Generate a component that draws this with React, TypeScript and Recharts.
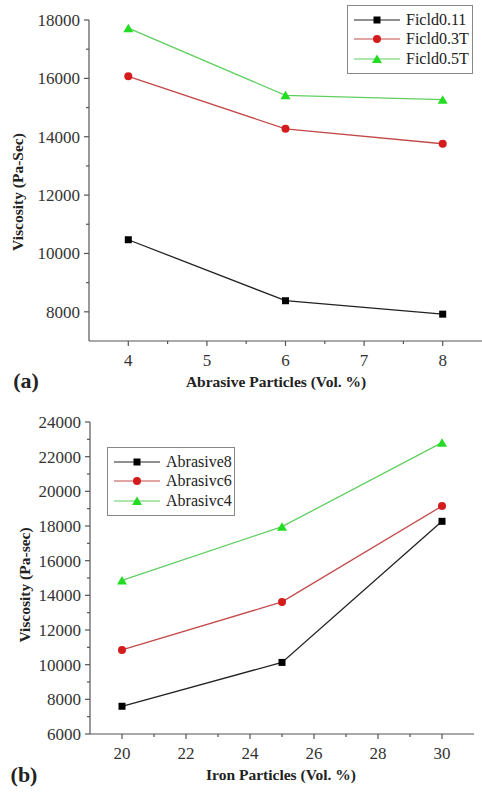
import { LineChart, Line, XAxis, YAxis, Legend } from "recharts";

// (a) viscosity vs abrasive content, one line per magnetic field
const abrasiveVol = [4, 6, 8];
const field01 = [10470, 8380, 7920];
const field03 = [16070, 14270, 13760];
const field05 = [17720, 15420, 15270];

// (b) viscosity vs iron content, one line per abrasive content
const ironVol = [20, 25, 30];
const abrasive8 = [7600, 10130, 18270];
const abrasive6 = [10850, 13620, 19150];
const abrasive4 = [14860, 17960, 22810];

const xTicksA = [4, 4.5, 5, 5.5, 6, 6.5, 7, 7.5, 8];
const yTicksA = [8000, 9000, 10000, 11000, 12000, 13000, 14000, 15000, 16000, 17000, 18000];
const xTicksB = [20, 21, 22, 23, 24, 25, 26, 27, 28, 29, 30];
const yTicksB = [6000, 7000, 8000, 9000, 10000, 11000, 12000, 13000, 14000, 15000, 16000, 17000, 18000, 19000, 20000, 21000, 22000, 23000, 24000];

const FONT = "Liberation Serif, Times New Roman, Times, DejaVu Serif, serif";
const AXIS = "#555";

type Shape = "square" | "circle" | "triangle";
type Series = { key: string; name: string; line: string; fill: string; shape: Shape };

const seriesA: Series[] = [
  { key: "f01", name: "Ficld0.11", line: "#222", fill: "#000", shape: "square" },
  { key: "f03", name: "Ficld0.3T", line: "#c24a4a", fill: "#d41c1c", shape: "circle" },
  { key: "f05", name: "Ficld0.5T", line: "#5fcf5f", fill: "#22dd22", shape: "triangle" },
];
const seriesB: Series[] = [
  { key: "a8", name: "Abrasive8", line: "#222", fill: "#000", shape: "square" },
  { key: "a6", name: "Abrasivc6", line: "#c24a4a", fill: "#d41c1c", shape: "circle" },
  { key: "a4", name: "Abrasivc4", line: "#5fcf5f", fill: "#22dd22", shape: "triangle" },
];

const dataA = abrasiveVol.map((x, i) => ({ x, f01: field01[i], f03: field03[i], f05: field05[i] }));
const dataB = ironVol.map((x, i) => ({ x, a8: abrasive8[i], a6: abrasive6[i], a4: abrasive4[i] }));

function Marker({ cx, cy, shape, fill }: { cx: number; cy: number; shape: Shape; fill: string }) {
  if (shape === "square") return <rect x={cx - 3.5} y={cy - 3.5} width={7} height={7} fill={fill} />;
  if (shape === "circle") return <circle cx={cx} cy={cy} r={4} fill={fill} />;
  return <path d={`M${cx},${cy - 4.5} L${cx + 5},${cy + 4} L${cx - 5},${cy + 4} Z`} fill={fill} />;
}

const XTick = (major: (v: number) => boolean) => (p: any) => {
  const v = p.payload.value;
  const m = major(v);
  return (
    <g>
      <line x1={p.x} x2={p.x} y1={p.y} y2={p.y + (m ? 5 : 3)} stroke={AXIS} strokeWidth={1.2} />
      {m && (
        <text x={p.x} y={p.y + 19} dy="0.35em" textAnchor="middle" fontSize={17} style={{ fontFamily: FONT }} fill="#333">
          {v}
        </text>
      )}
    </g>
  );
};

const YTick = (major: (v: number) => boolean) => (p: any) => {
  const v = p.payload.value;
  const m = major(v);
  return (
    <g>
      <line x1={p.x} x2={p.x - (m ? 5 : 3)} y1={p.y} y2={p.y} stroke={AXIS} strokeWidth={1.2} />
      {m && (
        <text x={p.x - 9} y={p.y} dy="0.35em" textAnchor="end" fontSize={17} style={{ fontFamily: FONT }} fill="#333">
          {v}
        </text>
      )}
    </g>
  );
};

function LegendBox({ series, w, rowH }: { series: Series[]; w: number; rowH: number }) {
  return (
    <div
      style={{
        border: "1.5px solid #888",
        width: w,
        padding: "4px 0",
        background: "#fff",
        fontFamily: FONT,
        fontSize: 16,
        color: "#222",
      }}
    >
      {series.map((s) => (
        <div key={s.key} style={{ display: "flex", alignItems: "center", height: rowH }}>
          <svg width={52} height={12} style={{ marginLeft: 6 }}>
            <line x1={0} x2={46} y1={6} y2={6} stroke={s.line} strokeWidth={1.2} />
            <Marker cx={23} cy={6} shape={s.shape} fill={s.fill} />
          </svg>
          <span>{s.name}</span>
        </div>
      ))}
    </div>
  );
}

function Title({ x, y, size, rotate, children }: any) {
  return (
    <div
      style={{
        position: "absolute",
        left: x,
        top: y,
        transform: `translate(-50%, -50%)${rotate ? " rotate(-90deg)" : ""}`,
        fontFamily: FONT,
        fontWeight: "bold",
        fontSize: size,
        whiteSpace: "nowrap",
        color: "#222",
      }}
    >
      {children}
    </div>
  );
}

export default function App() {
  return (
    <div style={{ position: "absolute", left: 0, top: 0, width: 482, height: 792, background: "#fff", fontFamily: FONT }}>
      <div style={{ position: "absolute", left: 0, top: 0 }}>
        <LineChart width={482} height={400} data={dataA} margin={{ top: 20, right: 0, bottom: 29, left: 0 }}>
          <XAxis
            dataKey="x"
            type="number"
            domain={[3.5, 8.5]}
            ticks={xTicksA}
            interval={0}
            tickSize={0}
            tickMargin={0}
            height={30}
            stroke={AXIS}
            strokeWidth={1.2}
            tick={XTick((v) => Number.isInteger(v))}
          />
          <YAxis
            type="number"
            domain={[7000, 18000]}
            ticks={yTicksA}
            interval={0}
            tickSize={0}
            tickMargin={0}
            width={89}
            stroke={AXIS}
            strokeWidth={1.2}
            tick={YTick((v) => v % 2000 === 0)}
          />
          {seriesA.map((s) => (
            <Line
              key={s.key}
              dataKey={s.key}
              name={s.name}
              stroke={s.line}
              strokeWidth={1.3}
              isAnimationActive={false}
              dot={(p: any) => <Marker key={p.index} cx={p.cx} cy={p.cy} shape={s.shape} fill={s.fill} />}
              activeDot={false}
            />
          ))}
          <Legend
            layout="vertical"
            align="center"
            verticalAlign="middle"
            wrapperStyle={{ left: 347, top: 5, width: "auto" }}
            content={() => <LegendBox series={seriesA} w={124} rowH={19.5} />}
          />
        </LineChart>
      </div>

      <div style={{ position: "absolute", left: 0, top: 400 }}>
        <LineChart width={482} height={392} data={dataB} margin={{ top: 22, right: 8, bottom: 28, left: 0 }}>
          <XAxis
            dataKey="x"
            type="number"
            domain={[19, 31]}
            ticks={xTicksB}
            interval={0}
            tickSize={0}
            tickMargin={0}
            height={30}
            stroke={AXIS}
            strokeWidth={1.2}
            tick={XTick((v) => v % 2 === 0)}
          />
          <YAxis
            type="number"
            domain={[6000, 24000]}
            ticks={yTicksB}
            interval={0}
            tickSize={0}
            tickMargin={0}
            width={90}
            stroke={AXIS}
            strokeWidth={1.2}
            tick={YTick((v) => v % 2000 === 0)}
          />
          {seriesB.map((s) => (
            <Line
              key={s.key}
              dataKey={s.key}
              name={s.name}
              stroke={s.line}
              strokeWidth={1.3}
              isAnimationActive={false}
              dot={(p: any) => <Marker key={p.index} cx={p.cx} cy={p.cy} shape={s.shape} fill={s.fill} />}
              activeDot={false}
            />
          ))}
          <Legend
            layout="vertical"
            align="center"
            verticalAlign="middle"
            wrapperStyle={{ left: 107, top: 47, width: "auto" }}
            content={() => <LegendBox series={seriesB} w={126} rowH={19.5} />}
          />
        </LineChart>
      </div>

      <Title x={18} y={192} size={15.5} rotate>
        Viscosity (Pa-Sec)
      </Title>
      <Title x={26} y={381} size={22}>
        (a)
      </Title>
      <Title x={276} y={382} size={15.5}>
        Abrasive Particles (Vol. %)
      </Title>

      <Title x={25} y={585} size={15.5} rotate>
        Viscosity (Pa-sec)
      </Title>
      <Title x={24} y={775} size={22}>
        (b)
      </Title>
      <Title x={281} y={775} size={15.5}>
        Iron Particles (Vol. %)
      </Title>
    </div>
  );
}
